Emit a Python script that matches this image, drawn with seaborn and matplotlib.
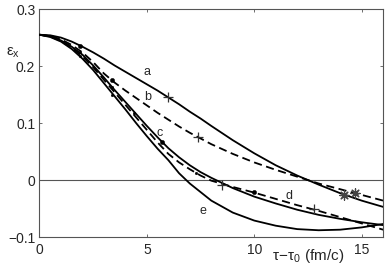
import numpy as np
import pandas as pd
import seaborn as sns
import matplotlib.pyplot as plt

# data
t = [0, 0.5, 1, 1.5, 2, 2.5, 3, 3.5, 4, 4.5, 5, 5.5, 6, 6.5, 7, 7.5, 8,
     9, 10, 11, 12, 13, 14, 15, 16]
eps_a = [0.255, 0.254, 0.250, 0.243, 0.234, 0.224, 0.213, 0.201, 0.190, 0.179,
         0.168, 0.157, 0.145, 0.133, 0.120, 0.108, 0.095,
         0.070, 0.047, 0.026, 0.008, -0.008, -0.023, -0.036, -0.047]
eps_b = [0.255, 0.253, 0.247, 0.237, 0.224, 0.207, 0.187, 0.171, 0.157, 0.144,
         0.131, 0.118, 0.106, 0.094, 0.083, 0.073, 0.063,
         0.046, 0.031, 0.018, 0.006, -0.006, -0.016, -0.026, -0.036]
eps_c = [0.255, 0.252, 0.245, 0.234, 0.220, 0.201, 0.180, 0.158, 0.137, 0.116,
         0.095, 0.075, 0.056, 0.040, 0.026, 0.014, 0.004,
         -0.014, -0.029, -0.041, -0.052, -0.061, -0.068, -0.074, -0.079]
eps_d = [0.255, 0.252, 0.244, 0.232, 0.217, 0.198, 0.176, 0.154, 0.132, 0.110,
         0.088, 0.066, 0.046, 0.031, 0.019, 0.008, -0.001,
         -0.012, -0.022, -0.033, -0.044, -0.054, -0.065, -0.076, -0.087]
eps_e = [0.255, 0.251, 0.243, 0.230, 0.213, 0.193, 0.170, 0.147, 0.124, 0.100,
         0.077, 0.055, 0.035, 0.012, -0.006, -0.021, -0.036,
         -0.057, -0.071, -0.080, -0.086, -0.088, -0.087, -0.083, -0.077]

dot_t = [1.88, 3.37, 5.7, 10.0]
dot_eps = [0.236, 0.175, 0.066, -0.021]
small_dot_t = [1.88, 1.88, 3.37, 3.37, 4.4, 7.3]
small_dot_eps = [0.225, 0.218, 0.164, 0.150, 0.117, 0.012]
plus_t = [5.99, 7.37, 8.5, 12.8]
plus_eps = [0.145, 0.076, -0.009, -0.051]
star_t = [14.2, 14.7]
star_eps = [-0.026, -0.023]

curve_names = ["a", "b", "c", "d", "e"]
label_t = [5.0, 5.05, 5.6, 11.6, 7.6]
label_eps = [0.189, 0.146, 0.082, -0.028, -0.054]

df = pd.DataFrame({
    "t": t * 5,
    "eps": eps_a + eps_b + eps_c + eps_d + eps_e,
    "curve": sum([[n] * len(t) for n in curve_names], []),
})

sns.set_style("ticks")
plt.rcParams["font.family"] = ["Liberation Sans", "DejaVu Sans"]
plt.rcParams["mathtext.fontset"] = "custom"
plt.rcParams["mathtext.rm"] = "Liberation Sans"
plt.rcParams["mathtext.it"] = "Liberation Sans"

fig = plt.figure(figsize=(3.87, 2.67), dpi=100)
ax = fig.add_axes([0.102, 0.112, 0.888, 0.854])

ax.axhline(0, color="#555555", lw=0.8, zorder=1)

sns.lineplot(data=df, x="t", y="eps", style="curve", color="black", lw=1.3,
             dashes={"a": "", "b": (4.5, 2.5), "c": "", "d": (4.5, 2.5), "e": ""},
             legend=False, ax=ax, zorder=3)

sns.scatterplot(x=dot_t, y=dot_eps, marker="o", s=10, color="black",
                edgecolor="black", ax=ax, zorder=4)
sns.scatterplot(x=small_dot_t, y=small_dot_eps, marker="o", s=4, color="black",
                edgecolor="black", ax=ax, zorder=4)
sns.scatterplot(x=plus_t, y=plus_eps, marker="+", s=45, color="#333333",
                linewidth=0.9, ax=ax, zorder=4)
sns.scatterplot(x=star_t, y=star_eps, marker=(8, 2, 0), s=45, color="#444444",
                linewidth=0.9, ax=ax, zorder=4)

for n, lx, ly in zip(curve_names, label_t, label_eps):
    ax.text(lx, ly, n, fontsize=9, ha="center", va="center")

ax.set_xlim(0, 16)
ax.set_ylim(-0.1, 0.3)
ax.set_xticks([0, 5, 10, 15])
ax.set_yticks([-0.1, 0, 0.1, 0.2, 0.3])
ax.set_xticklabels(["0", "5", "10", "15"])
ax.set_yticklabels(["\u22120.1", "0", "0.1", "0.2", "0.3"])
ax.tick_params(direction="in", length=2.5, width=0.6, color="#555555",
               labelsize=10, top=True, right=True)
ax.tick_params(axis="x", pad=4)
ax.tick_params(axis="y", pad=3)
for sp in ax.spines.values():
    sp.set_color("#555555")
    sp.set_linewidth(0.8)

ax.set_xlabel("")
ax.set_ylabel("")
fig.text(0.035, 0.79, r"$\mathrm{\varepsilon_x}$", fontsize=11, ha="center")
fig.text(0.796, 0.025, r"$\mathrm{\tau \! - \! \tau_0}$ (fm/c)", fontsize=11, ha="center")

fig.savefig("out.png", dpi=100)
